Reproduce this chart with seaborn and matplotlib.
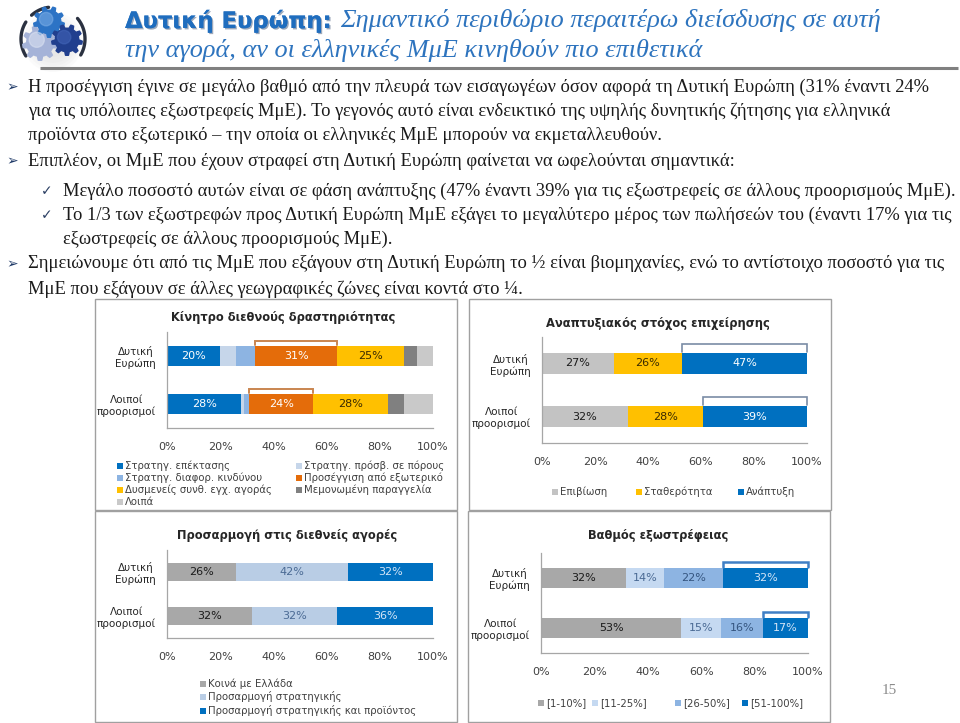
import numpy as np
import pandas as pd
import matplotlib
matplotlib.use("Agg")
import matplotlib.pyplot as plt
import matplotlib.patheffects as pe
from matplotlib.patches import Rectangle, Polygon
import seaborn as sns

# ---------------- data ----------------
categories = ["Δυτική\nΕυρώπη", "Λοιποί\nπροορισμοί"]
xticks = [0, 20, 40, 60, 80, 100]
xtick_labels = ["0%", "20%", "40%", "60%", "80%", "100%"]

c1_title = "Κίνητρο διεθνούς δραστηριότητας"
c1_series = ["Στρατηγ. επέκτασης", "Στρατηγ. πρόσβ. σε πόρους", "Στρατηγ. διαφορ. κινδύνου",
             "Προσέγγιση από εξωτερικό", "Δυσμενείς συνθ. εγχ. αγοράς", "Μεμονωμένη παραγγελία", "Λοιπά"]
c1_we = [20, 6, 7, 31, 25, 5, 6]
c1_other = [28, 1, 2, 24, 28, 6, 11]

c2_title = "Αναπτυξιακός στόχος επιχείρησης"
c2_series = ["Επιβίωση", "Σταθερότητα", "Ανάπτυξη"]
c2_we = [27, 26, 47]
c2_other = [32, 28, 39]

c3_title = "Προσαρμογή στις διεθνείς αγορές"
c3_series = ["Κοινά με Ελλάδα", "Προσαρμογή στρατηγικής", "Προσαρμογή στρατηγικής και προϊόντος"]
c3_we = [26, 42, 32]
c3_other = [32, 32, 36]

c4_title = "Βαθμός εξωστρέφειας"
c4_series = ["[1-10%]", "[11-25%]", "[26-50%]", "[51-100%]"]
c4_we = [32, 14, 22, 32]
c4_other = [53, 15, 16, 17]

title_bold = "Δυτική Ευρώπη:"
title_l1 = "Σημαντικό περιθώριο περαιτέρω διείσδυσης σε αυτή"
title_l2 = "την αγορά, αν οι ελληνικές ΜμΕ κινηθούν πιο επιθετικά"

body = [
    ("b", "Η προσέγγιση έγινε σε μεγάλο βαθμό από την πλευρά των εισαγωγέων όσον αφορά τη Δυτική Ευρώπη (31% έναντι 24%"),
    ("", "για τις υπόλοιπες εξωστρεφείς ΜμΕ). Το γεγονός αυτό είναι ενδεικτικό της υψηλής δυνητικής ζήτησης για ελληνικά"),
    ("", "προϊόντα στο εξωτερικό – την οποία οι ελληνικές ΜμΕ μπορούν να εκμεταλλευθούν."),
    ("b", "Επιπλέον, οι ΜμΕ που έχουν στραφεί στη Δυτική Ευρώπη φαίνεται να ωφελούνται σημαντικά:"),
    ("c", "Μεγάλο ποσοστό αυτών είναι σε φάση ανάπτυξης (47% έναντι 39% για τις εξωστρεφείς σε άλλους προορισμούς ΜμΕ)."),
    ("c", "Το 1/3 των εξωστρεφών προς Δυτική Ευρώπη ΜμΕ εξάγει το μεγαλύτερο μέρος των πωλήσεών του (έναντι 17% για τις"),
    ("c2", "εξωστρεφείς σε άλλους προορισμούς ΜμΕ)."),
    ("b", "Σημειώνουμε ότι από τις ΜμΕ που εξάγουν στη Δυτική Ευρώπη το ½ είναι βιομηχανίες, ενώ το αντίστοιχο ποσοστό για τις"),
    ("", "ΜμΕ που εξάγουν σε άλλες γεωγραφικές ζώνες είναι κοντά στο ¼."),
]
page_number = "15"

# ---------------- setup ----------------
sns.set_theme(style="white")
plt.rcParams["font.family"] = ["DejaVu Sans"]
W, H = 960, 723
fig = plt.figure(figsize=(9.6, 7.23), dpi=100)
fig.patch.set_facecolor("white")
ov = fig.add_axes([0, 0, 1, 1])
ov.set_xlim(0, W)
ov.set_ylim(H, 0)
ov.axis("off")
renderer = fig.canvas.get_renderer()

SERIF = ["Liberation Serif", "DejaVu Serif"]


def width_of(t):
    return t.get_window_extent(renderer).width


# ---------------- header icon ----------------
def gear(cx, cy, r, n, color, inner):
    t = np.linspace(0, 2 * np.pi, 600)
    rr = r * (0.78 + 0.22 * (np.clip(2.2 * np.sin(n * t), -1, 1) + 1) / 2)
    ov.add_patch(Polygon(np.c_[cx + rr * np.cos(t), cy + rr * np.sin(t)], closed=True,
                         fc=color, ec="none", zorder=3))
    ov.add_patch(plt.Circle((cx - r * 0.18, cy - r * 0.18), r * 0.42, color=inner, zorder=4, alpha=0.55))


for k in range(6):
    ov.add_patch(plt.Circle((53, 42), 30 - k * 3, color="#D8D8D8", alpha=0.12, zorder=1, lw=0))
gear(40, 43, 18, 9, "#A5B3D8", "#DCE3F2")
gear(49, 22, 16, 9, "#2C73C5", "#7DAEE6")
gear(67, 40, 16, 9, "#213F8E", "#4467BA")
ang = np.linspace(np.radians(148), np.radians(212), 40)
ov.plot(53 + 32 * np.cos(ang), 39 + 32 * np.sin(ang), color="#2A3140", lw=2.4, zorder=2)
ang = np.linspace(np.radians(-40), np.radians(30), 40)
ov.plot(53 + 32 * np.cos(ang), 39 + 32 * np.sin(ang), color="#2A3140", lw=2.4, zorder=2)
ang = np.linspace(np.radians(228), np.radians(262), 20)
ov.plot(53 + 32 * np.cos(ang), 39 + 32 * np.sin(ang), color="#2A3140", lw=2.4, zorder=2)

# ---------------- title ----------------
tb = ov.text(125, 21, title_bold, fontsize=15, fontweight="bold", color="#1F6DBE",
             ha="left", va="center", family=["DejaVu Sans"],
             path_effects=[pe.withSimplePatchShadow(offset=(1, -1), shadow_rgbFace="#0B2A55", alpha=0.4),
                           pe.Normal()])
tb.set_fontsize(15 * 207 / width_of(tb))
x_it = 125 + width_of(tb) + 8
t1 = ov.text(x_it, 21, title_l1, fontsize=18, fontstyle="italic", color="#2E74BE",
             ha="left", va="center", family=SERIF)
t2 = ov.text(125, 50, title_l2, fontsize=18, fontstyle="italic", color="#2E74BE",
             ha="left", va="center", family=SERIF)
s_it = min((880 - x_it) / width_of(t1), 620 / width_of(t2))
t1.set_fontsize(18 * s_it)
t2.set_fontsize(18 * s_it)
ov.plot([40, 958], [68, 68], color="#808080", lw=2.2, solid_capstyle="butt")

# ---------------- body text ----------------
line_y = [87, 111, 136, 161, 191, 215, 239, 264, 289]
texts = []
for (kind, s), y in zip(body, line_y):
    x = 63 if kind in ("c", "c2") else 28
    t = ov.text(x, y, s, fontsize=13, ha="left", va="center", color="#1A1A1A", family=SERIF)
    texts.append(t)
    if kind == "b":
        ov.text(6, y, "➢", fontsize=10, ha="left", va="center", color="#1F3A68", family=["DejaVu Sans"])
    if kind == "c":
        ov.text(41, y, "✓", fontsize=10, ha="left", va="center", color="#2B3F63", family=["DejaVu Sans"])
targets = {0: 907, 4: 890, 5: 890, 7: 925}
scale = min(w / width_of(texts[i]) for i, w in targets.items())
for t in texts:
    t.set_fontsize(13 * scale)

# ---------------- chart boxes ----------------
for (x0, y0, x1, y1) in [(95, 299, 457, 510), (469, 299, 831, 510), (95, 511, 457, 722), (468, 511, 830, 722)]:
    ov.add_patch(Rectangle((x0, y0), x1 - x0, y1 - y0, fill=False, ec="#A0A0A0", lw=1.0, zorder=1))

ov.text(889, 691, page_number, fontsize=11, color="#8C8C8C", ha="center", va="center", family=SERIF)


def px_rect(x0, y0, x1, y1):
    return [x0 / W, 1 - y1 / H, (x1 - x0) / W, (y1 - y0) / H]


def chart(rect, title, title_xy, series, we, other, colors, tcols, min_label, bar_h,
          bracket=None):
    ax = fig.add_axes(px_rect(*rect))
    data = np.array([we, other], float)
    norm = data / data.sum(axis=1, keepdims=True) * 100
    cum = norm.cumsum(axis=1)
    for i in range(len(series) - 1, -1, -1):
        df = pd.DataFrame({"cat": categories, "val": cum[:, i]})
        sns.barplot(data=df, x="val", y="cat", order=categories, orient="h", color=colors[i],
                    saturation=1, width=bar_h, linewidth=0, errorbar=None, ax=ax)
    for j in range(2):
        for i, v in enumerate(data[j]):
            if v >= min_label:
                ax.text(cum[j, i] - norm[j, i] / 2, j, f"{v:.0f}%", ha="center", va="center",
                        fontsize=8, color=tcols[i])
    if bracket is not None:
        idx, col, gap, lw = bracket
        for j in range(2):
            xs, xe = cum[j, idx] - norm[j, idx], cum[j, idx]
            yb = j - bar_h / 2
            yt = yb - gap
            ax.plot([xs, xs, xe, xe], [yb - 0.02, yt, yt, yb - 0.02], color=col, lw=lw,
                    clip_on=False, solid_joinstyle="miter")
    ax.set_xlim(0, 100)
    ax.set_ylim(1.5, -0.5)
    ax.set_xticks(xticks)
    ax.set_xticklabels(xtick_labels)
    ax.set_xlabel("")
    ax.set_ylabel("")
    ax.patch.set_alpha(0)
    ax.grid(False)
    for s in ["top", "right"]:
        ax.spines[s].set_visible(False)
    for s in ["left", "bottom"]:
        ax.spines[s].set_color("#A6A6A6")
        ax.spines[s].set_linewidth(0.9)
    ax.tick_params(axis="x", length=3, direction="in", color="#A6A6A6", pad=10,
                   labelsize=8, labelcolor="#404040")
    ax.set_yticks([-0.5, 0.5, 1.5], minor=True)
    ax.tick_params(axis="y", which="major", length=0, pad=8, labelsize=7.5, labelcolor="#262626")
    ax.tick_params(axis="y", which="minor", length=4, direction="out", color="#A6A6A6")
    for lab in ax.get_yticklabels():
        lab.set_multialignment("center")
    ov.text(title_xy[0], title_xy[1], title, ha="center", va="center", fontsize=8.3,
            fontweight="bold", color="#262626")
    return ax


def legend_item(x, y, color, text):
    ov.add_patch(Rectangle((x, y - 3), 6, 6, color=color, lw=0, zorder=3))
    ov.text(x + 8, y, text, fontsize=7.3, ha="left", va="center", color="#404040")


# chart 1
c1_colors = ["#0070C0", "#C6D6EA", "#8DB4E2", "#E46C0A", "#FFC000", "#808080", "#C9C9C9"]
c1_tc = ["white", "#333333", "#333333", "white", "#3A2A00", "white", "#333333"]
chart((167, 332, 433, 428), c1_title, (283, 318), c1_series, c1_we, c1_other, c1_colors, c1_tc,
      20, 0.42, bracket=(3, "#C98550", 0.11, 1.4))
leg_pos = [(117, 466), (296, 466), (117, 478), (296, 478), (117, 490), (296, 490), (117, 502)]
for (x, y), c, s in zip(leg_pos, c1_colors, c1_series):
    legend_item(x, y, c, s)

# chart 2
c2_colors = ["#C3C3C3", "#FFC000", "#0070C0"]
c2_tc = ["#1A1A1A", "#3A2A00", "white"]
chart((542, 337, 807, 443), c2_title, (658, 324), c2_series, c2_we, c2_other, c2_colors, c2_tc,
      10, 0.40, bracket=(2, "#7A8CA6", 0.17, 1.2))
for x, c, s in zip([552, 636, 738], c2_colors, c2_series):
    legend_item(x, 492, c, s)

# chart 3
c3_colors = ["#A8A8A8", "#B9CDE5", "#0070C0"]
c3_tc = ["#1A1A1A", "#4A6A94", "#D6E6F7"]
chart((167, 550, 433, 638), c3_title, (287, 535), c3_series, c3_we, c3_other, c3_colors, c3_tc,
      10, 0.41)
for y, c, s in zip([684, 697, 711], c3_colors, c3_series):
    legend_item(200, y, c, s)

# chart 4
c4_colors = ["#A8A8A8", "#C5D9F1", "#8DB4E2", "#0070C0"]
c4_tc = ["#1A1A1A", "#4A6A94", "#35557F", "#D6E6F7"]
chart((541, 553, 808, 653), c4_title, (658, 536), c4_series, c4_we, c4_other, c4_colors, c4_tc,
      10, 0.40, bracket=(3, "#3F7FC5", 0.12, 1.8))
for x, c, s in zip([538, 592, 675, 742], c4_colors, c4_series):
    legend_item(x, 703, c, s)

fig.savefig("out.png", dpi=100, facecolor="white")
